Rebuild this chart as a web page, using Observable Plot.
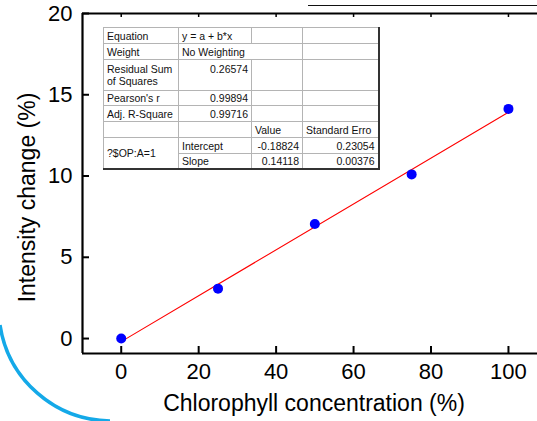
<!DOCTYPE html>
<html>
<head>
<meta charset="utf-8">
<script src="https://cdn.jsdelivr.net/npm/d3@7"></script>
<script src="https://cdn.jsdelivr.net/npm/@observablehq/plot@0.6"></script>
<style>
  html, body { margin: 0; padding: 0; background: #fff; }
  #wrap { position: relative; width: 537px; height: 421px; overflow: hidden; font-family: "Liberation Sans", Arial, sans-serif; }
  #wrap svg.deco { position: absolute; left: 0; top: 0; pointer-events: none; }
  #fit { position: absolute; left: 103px; top: 27px; border-collapse: collapse; table-layout: fixed;
         font-family: "Liberation Sans", Arial, sans-serif; font-size: 10.5px; color: #111;
         border-top: 1px solid #555; border-left: 1px solid #555; border-right: 2px solid #333; border-bottom: 2px solid #333; background: #fff; }
  #fit td { border: 1px solid #b4b4b4; padding: 0 3px; line-height: 12px; white-space: nowrap; overflow: hidden; vertical-align: middle; }
  #fit td.num { text-align: right; }
  #fit td.top { vertical-align: top; padding-top: 3px; }
</style>
</head>
<body>
<div id="wrap"></div>
<script>
// ---- data ----
const concentration = [0, 25, 50, 75, 100];
const intensityChange = [0, 3.07, 7.05, 10.1, 14.13];
const xTicks = [0, 20, 40, 60, 80, 100];
const yTicks = [0, 5, 10, 15, 20];
const xDomain = [-10, 107.5];
const yDomain = [-0.92, 20];
const xTitle = "Chlorophyll concentration (%)";
const yTitle = "Intensity change (%)";

// fit report table (as printed on the chart)
const reportLabels = ["Equation", "Weight", "Residual Sum of Squares", "Pearson's r", "Adj. R-Square"];
const reportValues = ["y = a + b*x", "No Weighting", "0.26574", "0.99894", "0.99716"];
const paramHeader = ["Value", "Standard Erro"];
const paramGroup = "?$OP:A=1";
const paramNames = ["Intercept", "Slope"];
const paramValues = ["-0.18824", "0.14118"];
const paramErrors = ["0.23054", "0.00376"];

const points = concentration.map((x, i) => ({x, y: intensityChange[i]}));

const font = `"Liberation Sans", Arial, sans-serif`;

const chart = Plot.plot({
  width: 537,
  height: 421,
  marginLeft: 82,
  marginRight: 0,
  marginTop: 13,
  marginBottom: 68,
  style: {fontFamily: font, background: "white", color: "black", overflow: "visible"},
  x: {domain: xDomain},
  y: {domain: yDomain},
  marks: [
    Plot.axisY(yTicks, {tickSize: -7, tickPadding: 17, fontSize: 22, strokeWidth: 2, label: null}),
    Plot.axisX(xTicks, {tickSize: -7, tickPadding: 17, fontSize: 22, strokeWidth: 2, label: null}),
    Plot.axisX(xTicks, {anchor: "top", tickSize: -3, strokeWidth: 1.5, tickFormat: () => "", label: null}),
    Plot.ruleX([xDomain[0]], {strokeWidth: 2.2}),
    Plot.ruleY([yDomain[0]], {strokeWidth: 2.2}),
    Plot.ruleY([yDomain[1]], {strokeWidth: 2.2}),
    Plot.linearRegressionY(points, {x: "x", y: "y", stroke: "#ff0000", strokeWidth: 1.1, ci: 0}),
    Plot.dot(points, {x: "x", y: "y", r: 5, fill: "#0000ff", stroke: "none"}),
    Plot.text([yTitle], {frameAnchor: "left", textAnchor: "middle", lineAnchor: "middle", dx: -55, dy: 14, rotate: -90, fontSize: 23, fill: "black"}),
    Plot.text([xTitle], {frameAnchor: "bottom", dx: 4, dy: 57, fontSize: 23, fill: "black"})
  ]
});

const wrap = document.getElementById("wrap");
wrap.appendChild(chart);

// decorative overlay (cropped artwork around the chart)
const ns = "http://www.w3.org/2000/svg";
const deco = document.createElementNS(ns, "svg");
deco.setAttribute("class", "deco");
deco.setAttribute("width", 537);
deco.setAttribute("height", 421);
const arc = document.createElementNS(ns, "path");
arc.setAttribute("d", "M0,325 A113,113 0 0 0 110,421");
arc.setAttribute("fill", "none");
arc.setAttribute("stroke", "#14a9e8");
arc.setAttribute("stroke-width", 3.5);
deco.appendChild(arc);
const ul = document.createElementNS(ns, "line");
ul.setAttribute("x1", 308); ul.setAttribute("x2", 537);
ul.setAttribute("y1", 5.5); ul.setAttribute("y2", 5.5);
ul.setAttribute("stroke", "#111"); ul.setAttribute("stroke-width", 1.2);
deco.appendChild(ul);
wrap.appendChild(deco);

// fit report table
const colW = [75, 73, 51, 76];
const rowH = [16, 16, 31, 15, 16, 16, 16, 15];
const t = document.createElement("table");
t.id = "fit";
const cg = document.createElement("colgroup");
colW.forEach(w => { const c = document.createElement("col"); c.style.width = w + "px"; cg.appendChild(c); });
t.appendChild(cg);
let r = 0;
function row() { const tr = document.createElement("tr"); tr.style.height = rowH[r++] + "px"; t.appendChild(tr); return tr; }
function cell(tr, html, cls, attrs = {}) {
  const td = document.createElement("td");
  td.innerHTML = html;
  if (cls) td.className = cls;
  for (const k in attrs) td.setAttribute(k, attrs[k]);
  tr.appendChild(td);
  return td;
}
// Equation
let tr = row(); cell(tr, reportLabels[0]); cell(tr, reportValues[0]); cell(tr, ""); cell(tr, "");
// Weight
tr = row(); cell(tr, reportLabels[1]); cell(tr, reportValues[1], "", {colspan: 2}); cell(tr, "");
// Residual
tr = row(); cell(tr, reportLabels[2].replace("Sum ", "Sum<br>"), ""); cell(tr, reportValues[2], "num top"); cell(tr, ""); cell(tr, "");
// Pearson
tr = row(); cell(tr, reportLabels[3]); cell(tr, reportValues[3], "num"); cell(tr, ""); cell(tr, "");
// Adj R
tr = row(); cell(tr, reportLabels[4]); cell(tr, reportValues[4], "num"); cell(tr, ""); cell(tr, "");
// header
tr = row(); cell(tr, ""); cell(tr, ""); cell(tr, paramHeader[0]); cell(tr, paramHeader[1]);
// params
paramNames.forEach((n, i) => {
  tr = row();
  if (i === 0) cell(tr, paramGroup, "", {rowspan: 2});
  cell(tr, n); cell(tr, paramValues[i], "num"); cell(tr, paramErrors[i], "num");
});
wrap.appendChild(t);
</script>
</body>
</html>
